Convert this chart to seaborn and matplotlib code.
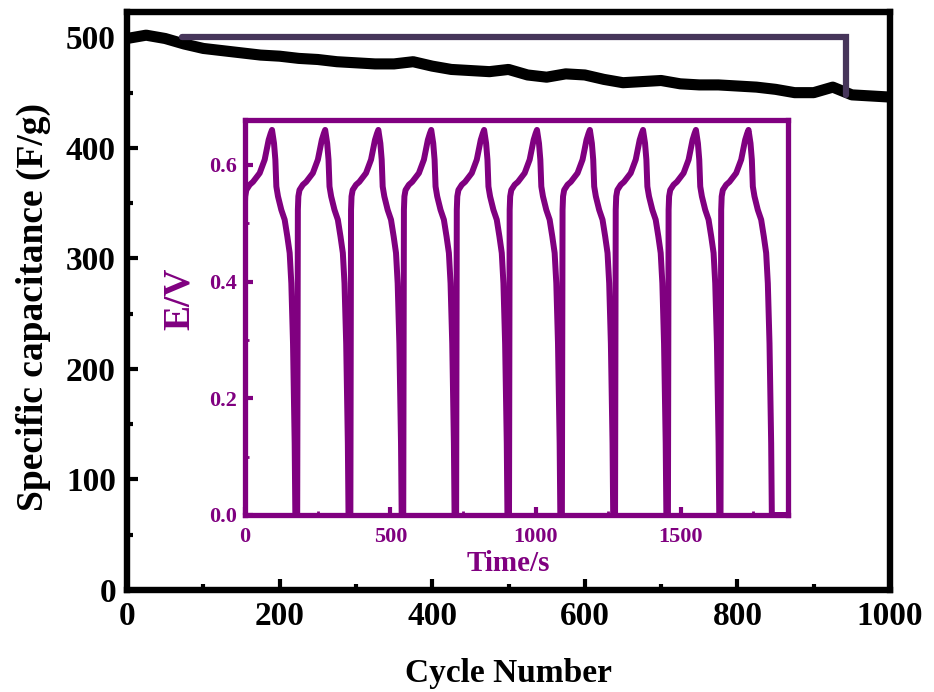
import matplotlib.pyplot as plt
import matplotlib.ticker as mticker
import seaborn as sns
import pandas as pd

sns.set_style('ticks')
plt.rcParams['font.family'] = ['Liberation Serif', 'DejaVu Serif']
plt.rcParams['font.weight'] = 'bold'
plt.rcParams['axes.labelweight'] = 'bold'
plt.rcParams['xtick.direction'] = 'in'
plt.rcParams['ytick.direction'] = 'in'
for k in ['text.color', 'axes.labelcolor', 'xtick.color', 'ytick.color',
          'axes.edgecolor']:
    plt.rcParams[k] = 'black'

# cycling stability (main plot)
cycles = [0, 25, 50, 75, 100, 125, 150, 175, 200, 225, 250, 275, 300, 325, 350,
          375, 400, 425, 450, 475, 500, 525, 550, 575, 600, 625, 650, 675, 700,
          725, 750, 775, 800, 825, 850, 875, 900, 925, 950, 975, 1000]
capacitance = [499, 502, 499, 494, 490, 488, 486, 484, 483, 481, 480, 478, 477,
               476, 476, 478, 474, 471, 470, 469, 471, 466, 464, 467, 466, 462,
               459, 460, 461, 458, 457, 457, 456, 455, 453, 450, 450, 455, 448,
               447, 446]

# bracket from the first to the last cycle
bracket_x = [72, 942, 942]
bracket_y = [500, 500, 448]

# charge/discharge curves (inset)
peak_times = [93, 276, 459, 641, 823, 1005, 1187, 1370, 1552, 1733]
charge_dt = [-96.3, -94, -92.3, -88.4, -76.8, -65.4, -42.4, -25.2, -11.5, -4.6, 0]
charge_E = [0, 0.523, 0.546, 0.557, 0.566, 0.571, 0.586, 0.609, 0.643, 0.654, 0.66]
discharge_dt = [6.9, 11.5, 14.9, 20.6, 32, 43.6, 52.8, 60.8, 66.5, 72.3, 78, 80.3]
discharge_E = [0.637, 0.609, 0.563, 0.546, 0.523, 0.506, 0.477, 0.449, 0.397,
               0.294, 0.123, 0]
time_end = 1869

t, e = [], []
for p in peak_times:
    t += [p + d for d in charge_dt] + [p + d for d in discharge_dt]
    e += charge_E + discharge_E
t.append(time_end)
e.append(0)
gcd = pd.DataFrame({'time': t, 'E': e})
cyc = pd.DataFrame({'cycle': cycles, 'cap': capacitance})

purple = '#800080'

fig = plt.figure(figsize=(9.34, 6.92), dpi=100)
ax = fig.add_axes([0.136, 0.1474, 0.8169, 0.8353])

sns.lineplot(data=cyc, x='cycle', y='cap', color='black', lw=8, ax=ax)
ax.plot(bracket_x, bracket_y, color='#46355a', lw=4.5, solid_joinstyle='miter')

ax.set_xlim(0, 1000)
ax.set_ylim(0, 523)
ax.xaxis.set_major_locator(mticker.MultipleLocator(200))
ax.xaxis.set_minor_locator(mticker.MultipleLocator(100))
ax.yaxis.set_major_locator(mticker.MultipleLocator(100))
ax.yaxis.set_minor_locator(mticker.MultipleLocator(50))
ax.tick_params(which='major', length=8, width=3, labelsize=24, pad=8)
ax.tick_params(which='minor', length=4, width=3)
for s in ax.spines.values():
    s.set_linewidth(4.6)
    s.set_visible(True)
ax.set_xlabel('Cycle Number', fontsize=24, labelpad=19)
ax.set_ylabel('Specific capacitance (F/g)', fontsize=27)
ax.yaxis.set_label_coords(-0.1, 0.49)

ins = fig.add_axes([0.2623, 0.2558, 0.5814, 0.5708])
sns.lineplot(data=gcd, x='time', y='E', color=purple, lw=4.3, sort=False,
             estimator=None, ax=ins)
ins.set_xlim(0, time_end)
ins.set_ylim(0, 0.677)
ins.xaxis.set_major_locator(mticker.MultipleLocator(500))
ins.xaxis.set_minor_locator(mticker.MultipleLocator(250))
ins.yaxis.set_major_locator(mticker.MultipleLocator(0.2))
ins.yaxis.set_minor_locator(mticker.MultipleLocator(0.1))
ins.yaxis.set_major_formatter(mticker.FormatStrFormatter('%.1f'))
ins.tick_params(which='major', length=6, width=3, labelsize=16, colors=purple)
ins.tick_params(axis='x', which='major', pad=9)
ins.tick_params(axis='y', which='major', pad=6)
ins.tick_params(which='minor', length=3, width=2, colors=purple)
for s in ins.spines.values():
    s.set_linewidth(3.8)
    s.set_color(purple)
    s.set_visible(True)
ins.set_xlabel('Time/s', fontsize=21, color=purple)
ins.xaxis.set_label_coords(0.484, -0.088)
ins.set_ylabel('E/V', fontsize=27, color=purple)
ins.yaxis.set_label_coords(-0.088, 0.547)

fig.savefig('out.png', dpi=100)
